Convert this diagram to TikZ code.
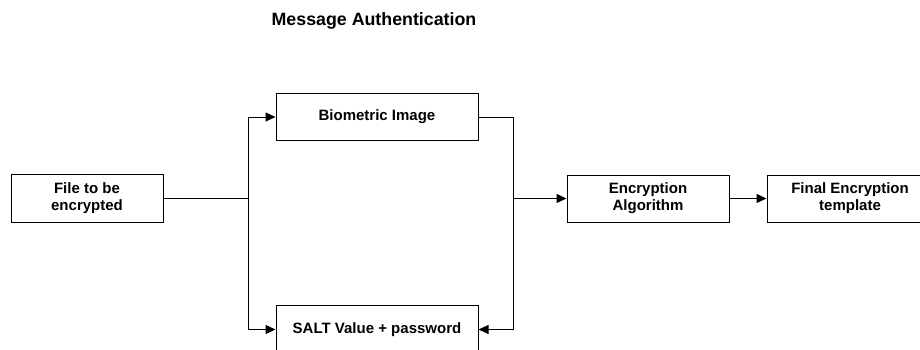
\documentclass[tikz,border=0pt]{standalone}
\usepackage{fontspec}
\setmainfont{Liberation Sans}
\usetikzlibrary{arrows.meta}
\begin{document}
\begin{tikzpicture}[x=1pt,y=-1pt,
  box/.style={draw,line width=1pt,rectangle,minimum height=48pt,align=center,
    inner sep=0pt,font=\fontsize{15}{17}\selectfont\bfseries},
  conn/.style={line width=1pt},
  arr/.style={conn,-{Triangle[length=10pt,width=9pt]}}]
\path[use as bounding box,fill=white] (0,0) rectangle (920,349);
\begin{scope}
\clip (0,0) rectangle (920,349);
\node (title) at (374,21) {\fontsize{17.8}{20}\selectfont\bfseries Message Authentication};
\node[box,minimum width=152pt] (file) at (87,198) {File to be\\encrypted};
\node[box,minimum width=202pt,minimum height=47pt] (bio) at (377,117) {Biometric Image};
\node[box,minimum width=202pt] (salt) at (377,329.5) {SALT Value + password};
\node[box,minimum width=162pt,minimum height=47pt] (enc) at (648,198.5) {Encryption\\Algorithm};
\node[box,minimum width=166pt,minimum height=47pt] (final) at (850,198.5) {Final Encryption\\template};
\coordinate (j1) at (248,198);
\coordinate (j2) at (513,198.5);
\draw[conn] (file.east) -- (j1);
\draw[arr] (j1) |- (bio.west);
\draw[arr] (j1) |- (salt.west);
\draw[conn] (bio.east) -| (j2);
\draw[arr] (j2) -- (enc.west);
\draw[arr] (j2) |- (salt.east);
\draw[arr] (enc.east) -- (final.west);
\end{scope}
\end{tikzpicture}
\end{document}
